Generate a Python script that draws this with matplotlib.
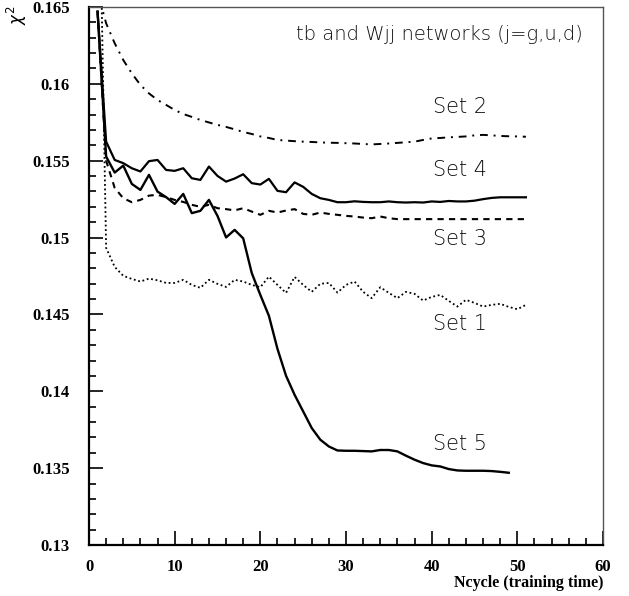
import matplotlib
matplotlib.use("Agg")
import matplotlib.pyplot as plt
from matplotlib.ticker import MultipleLocator

# training cycles
ncycle = list(range(1, 52))
ncycle5 = list(range(1, 50))

# chi^2 per set
set1 = [0.1798, 0.14933, 0.14809, 0.14751, 0.14731, 0.14714, 0.14733, 0.14722, 0.14705, 0.14705,
        0.14725, 0.14692, 0.14673, 0.14725, 0.14699, 0.14679, 0.14725, 0.14714, 0.14692, 0.14677,
        0.14746, 0.14692, 0.14640, 0.14744, 0.14692, 0.14647, 0.14699, 0.14705, 0.14642, 0.14692,
        0.14714, 0.14647, 0.14606, 0.14677, 0.14640, 0.14606, 0.14647, 0.14634, 0.14590, 0.14614,
        0.14627, 0.14588, 0.14551, 0.14595, 0.14575, 0.14551, 0.14562, 0.14569, 0.14549, 0.14534,
        0.14562]
set2 = [0.1660, 0.16394, 0.16264, 0.16155, 0.16068, 0.15993, 0.15938, 0.15895, 0.15863, 0.15830,
        0.15804, 0.15785, 0.15765, 0.15749, 0.15733, 0.15720, 0.15704, 0.15687, 0.15674, 0.15658,
        0.15648, 0.15635, 0.15631, 0.15627, 0.15624, 0.15622, 0.15619, 0.15617, 0.15616, 0.15614,
        0.15612, 0.15609, 0.15606, 0.15609, 0.15612, 0.15616, 0.15620, 0.15624, 0.15635, 0.15645,
        0.15648, 0.15652, 0.15655, 0.15658, 0.15665, 0.15668, 0.15665, 0.15661, 0.15659, 0.15658,
        0.15656]
set3 = [0.1647, 0.15500, 0.15323, 0.15256, 0.15230, 0.15245, 0.15273, 0.15278, 0.15263, 0.15245,
        0.15232, 0.15213, 0.15200, 0.15213, 0.15191, 0.15185, 0.15177, 0.15191, 0.15169, 0.15148,
        0.15174, 0.15163, 0.15176, 0.15185, 0.15154, 0.15148, 0.15163, 0.15154, 0.15148, 0.15141,
        0.15137, 0.15130, 0.15126, 0.15137, 0.15126, 0.15120, 0.15120, 0.15120, 0.15120, 0.15120,
        0.15120, 0.15120, 0.15120, 0.15120, 0.15120, 0.15120, 0.15120, 0.15120, 0.15120, 0.15120,
        0.15120]
set4 = [0.1647, 0.15624, 0.15505, 0.15484, 0.15451, 0.15430, 0.15497, 0.15505, 0.15440, 0.15434,
        0.15451, 0.15386, 0.15375, 0.15462, 0.15401, 0.15364, 0.15384, 0.15412, 0.15354, 0.15345,
        0.15382, 0.15304, 0.15295, 0.15359, 0.15330, 0.15284, 0.15256, 0.15245, 0.15230, 0.15230,
        0.15236, 0.15232, 0.15230, 0.15230, 0.15235, 0.15230, 0.15228, 0.15230, 0.15228, 0.15235,
        0.15232, 0.15238, 0.15235, 0.15235, 0.15240, 0.15250, 0.15258, 0.15262, 0.15262, 0.15262,
        0.15262]
set5 = [0.1647, 0.15527, 0.15423, 0.15468, 0.15349, 0.15310, 0.15408, 0.15299, 0.15263, 0.15219,
        0.15284, 0.15159, 0.15174, 0.15245, 0.15141, 0.15001, 0.15050, 0.14995, 0.14769, 0.14627,
        0.14491, 0.14276, 0.14101, 0.13977, 0.13869, 0.13761, 0.13685, 0.13641, 0.13615, 0.13613,
        0.13613, 0.13611, 0.13609, 0.13618, 0.13618, 0.13609, 0.13581, 0.13555, 0.13533, 0.13518,
        0.13511, 0.13494, 0.13485, 0.13483, 0.13483, 0.13483, 0.13481, 0.13476, 0.13470]

set_labels = ["Set 2", "Set 4", "Set 3", "Set 1", "Set 5"]
label_y = [0.1585, 0.1544, 0.14992, 0.14439, 0.13659]

fig = plt.figure(figsize=(6.29, 5.96), dpi=100)
ax = fig.add_axes([89 / 629, 1 - 545 / 596, 514 / 629, 538 / 596])

ax.plot(ncycle, set1, color="black", lw=1.3, ls=(0, (1, 1.5)))
ax.plot(ncycle, set2, color="black", lw=1.4, ls=(0, (4, 3, 1, 3)))
ax.plot(ncycle, set3, color="black", lw=1.5, ls=(0, (3, 2.5)))
ax.plot(ncycle, set4, color="black", lw=1.6)
ax.plot(ncycle5, set5, color="black", lw=1.7)

ax.set_xlim(0, 60)
ax.set_ylim(0.13, 0.165)

ax.xaxis.set_major_locator(MultipleLocator(10))
ax.xaxis.set_minor_locator(MultipleLocator(2))
ax.yaxis.set_major_locator(MultipleLocator(0.005))
ax.yaxis.set_minor_locator(MultipleLocator(0.001))
ax.tick_params(which="both", direction="in", top=False, right=False, width=1.2)
ax.tick_params(which="major", length=10)
ax.tick_params(which="minor", length=5)
ax.tick_params(axis="y", which="major", pad=14)
ax.tick_params(axis="x", which="major", pad=10)

tick_font = dict(family="Liberation Serif", weight="bold", size=12)
ax.set_xticks([0, 10, 20, 30, 40, 50, 60])
ax.set_xticklabels(["0", "10", "20", "30", "40", "50", "60"], **tick_font)
ax.set_yticks([0.13, 0.135, 0.14, 0.145, 0.15, 0.155, 0.16, 0.165])
ax.set_yticklabels(["0.13", "0.135", "0.14", "0.145", "0.15", "0.155", "0.16", "0.165"], **tick_font)

for side in ["left", "bottom"]:
    ax.spines[side].set_linewidth(1.6)
for side in ["top", "right"]:
    ax.spines[side].set_linewidth(1.0)
    ax.spines[side].set_color("#555555")

ax.text(57.6, 0.16324, "tb and Wjj networks (j=g,u,d)", ha="right", va="center",
        fontsize=14, color="#111111", family="DejaVu Sans", fontweight="light")
for lab, yy in zip(set_labels, label_y):
    ax.text(40.1, yy, lab, ha="left", va="center", fontsize=15, color="#111111",
            family="DejaVu Sans", fontweight="light")

fig.text(603 / 629, 1 - 583 / 596, "Ncycle (training time)", ha="right", va="center",
         family="Liberation Serif", weight="bold", size=11.5)
fig.text(17 / 629, 1 - 15 / 596, r"$\chi^2$", rotation=90, ha="center", va="center",
         size=12)

fig.savefig("out.png", dpi=100)
